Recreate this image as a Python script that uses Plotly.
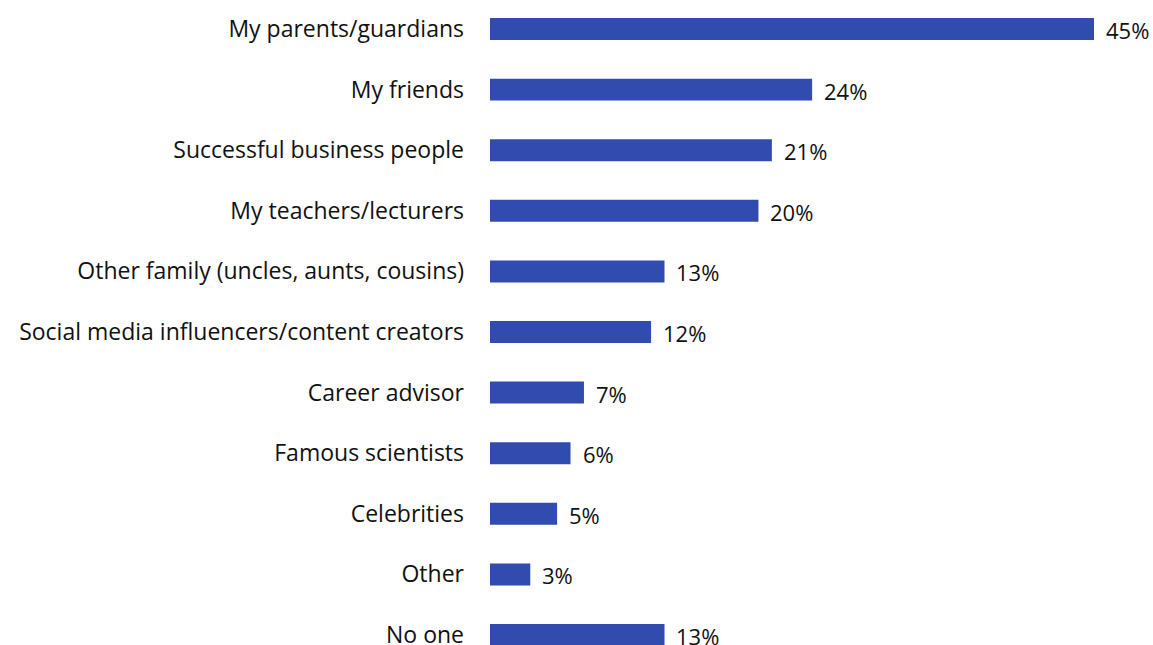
import plotly.graph_objects as go

categories = [
    "My parents/guardians",
    "My friends",
    "Successful business people",
    "My teachers/lecturers",
    "Other family (uncles, aunts, cousins)",
    "Social media influencers/content creators",
    "Career advisor",
    "Famous scientists",
    "Celebrities",
    "Other",
    "No one",
]
values = [45, 24, 21, 20, 13, 12, 7, 6, 5, 3, 13]
value_labels = [f"{v}%" for v in values]

bar_color = "#314BAF"
text_color = "#111111"
font_family = "'Open Sans', sans-serif"
font_size = 23

fig = go.Figure(
    go.Bar(
        x=values,
        y=categories,
        orientation="h",
        marker=dict(color=bar_color, line=dict(width=0)),
        hoverinfo="skip",
    )
)

for cat, v, lab in zip(categories, values, value_labels):
    fig.add_annotation(
        x=v, y=cat, text=lab, showarrow=False,
        xanchor="left", yanchor="middle", xshift=10, yshift=-1,
        font=dict(size=font_size - 1, color=text_color, family=font_family),
    )

fig.update_layout(
    width=1153, height=645,
    margin=dict(l=490, r=0, t=0, b=0, autoexpand=False),
    paper_bgcolor="white", plot_bgcolor="white",
    bargap=0.637,
    showlegend=False,
    font=dict(family=font_family, size=font_size, color=text_color),
    xaxis=dict(range=[0, 45 * 663 / 604], visible=False, fixedrange=True,
               automargin=False),
    yaxis=dict(
        categoryorder="array", categoryarray=categories,
        range=[10.165, -0.479],
        automargin=False,
        showline=False, showgrid=False, zeroline=False,
        ticks="", ticklabelstandoff=25,
        tickfont=dict(size=font_size, color=text_color, family=font_family),
    ),
)

fig.write_html("out.html")
